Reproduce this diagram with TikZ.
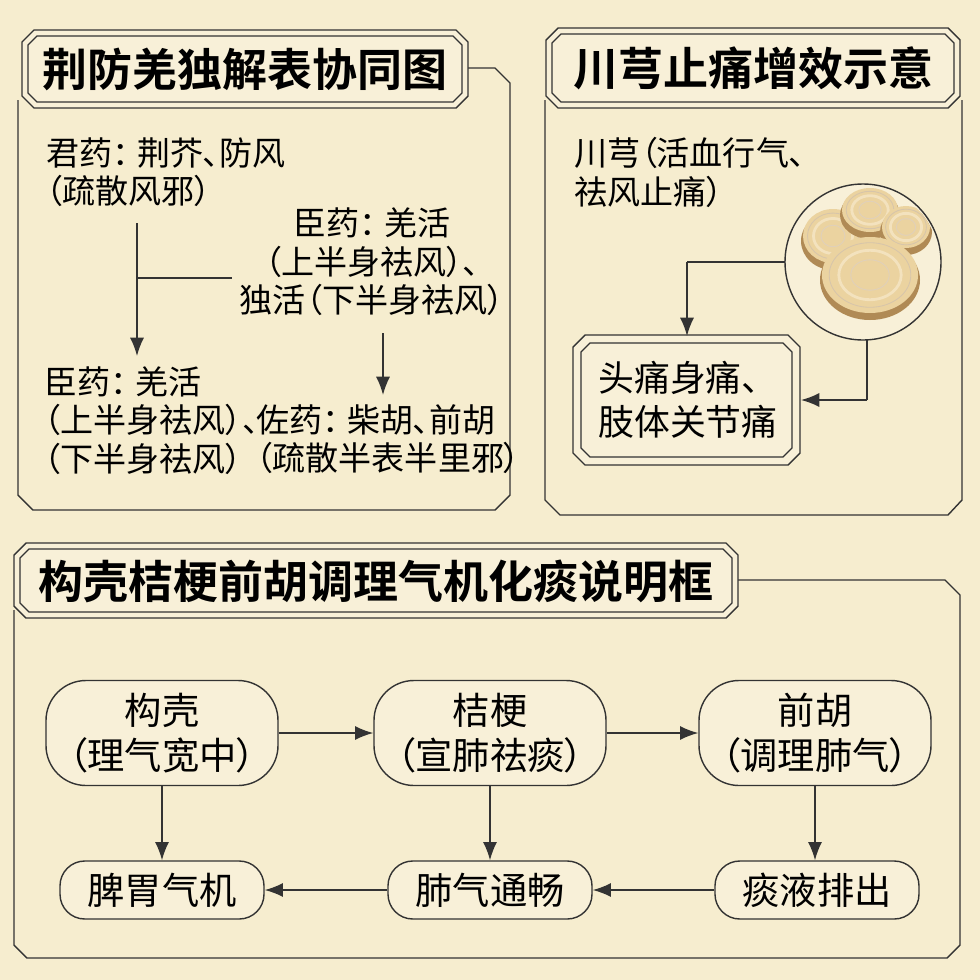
\documentclass[tikz,border=0pt]{standalone}
\usepackage{fontspec}
\setmainfont[RawFeature=+palt]{Noto Sans CJK SC}
\newfontfamily\bfcjk[RawFeature=+palt]{Noto Sans CJK SC Bold}
\usetikzlibrary{arrows.meta}
\definecolor{bg}{HTML}{F6EDCF}
\definecolor{plq}{HTML}{F8F0D8}
\definecolor{ln}{HTML}{333333}
\definecolor{slice}{HTML}{EBD3A0}
\definecolor{slicein}{HTML}{F3E2BE}
\definecolor{bark}{HTML}{B08A55}
\newcommand\chbox[6]{\draw[#6] (#1+#5,#2) -- (#3-#5,#2) -- (#3,#2+#5) -- (#3,#4-#5) -- (#3-#5,#4) -- (#1+#5,#4) -- (#1,#4-#5) -- (#1,#2+#5) -- cycle;}
\newcommand\plaque[4]{\chbox{#1}{#2}{#3}{#4}{12}{ln,line width=1pt,fill=plq}\chbox{#1+6}{#2+6}{#3-6}{#4-6}{9}{ln,line width=0.8pt}}
\newcommand\rootslice[4]{%
 \fill[bark] (#1,#2+5) circle[x radius=#3+2,y radius=#4+2];
 \fill[slice] (#1,#2) circle[x radius=#3,y radius=#4];
 \draw[slicein,line width=2pt] (#1,#2) circle[x radius=#3*0.65,y radius=#4*0.65];
 \draw[bark!40,line width=0.6pt] (#1,#2) circle[x radius=#3*0.4,y radius=#4*0.4];
 \draw[bark!50,line width=0.6pt] (#1,#2) circle[x radius=#3*0.85,y radius=#4*0.85];}
\newcommand\cln{：\hspace{0.25em}}
\begin{document}
\begin{tikzpicture}[x=0.025cm,y=-0.025cm,
  txt/.style={font=\fontsize{23.5}{27.5}\selectfont,text=black,inner sep=0pt,align=left},
  ttl/.style={font=\bfcjk\fontsize{32}{36}\selectfont,text=black,inner sep=0pt},
  pill/.style={draw=ln,line width=1pt,fill=plq,font=\fontsize{26.5}{32}\selectfont,align=center,inner sep=0pt},
  arr/.style={draw=ln,line width=1.1pt,-{Latex[length=13pt,width=10pt]}},
  fr/.style={draw=ln,line width=1pt}]
\fill[bg] (0,0) rectangle (980,980);
\useasboundingbox (0,0) rectangle (980,980);
% ---- top-left panel
\draw[fr] (465,68) -- (495,68) -- (510,83) -- (510,495) -- (495,510) -- (33,510) -- (18,495) -- (18,100);
\plaque{22}{30}{468}{108}
\node[ttl] (t1) at (245,69) {荆防羌独解表协同图};
\node[txt,anchor=north west] (jun) at (46,137) {君药\cln 荆芥、防风\\（疏散风邪）};
\node[txt,align=center] (chen1) at (372,262) {臣药\cln 羌活\\（上半身祛风）、\\独活（下半身祛风）};
\node[txt,anchor=north west] (chen2) at (44,366) {臣药\cln 羌活\\（上半身祛风）、\\（下半身祛风）};
\node[txt,anchor=north west] (zuo) at (256,404) {佐药\cln 柴胡、前胡\\（疏散半表半里邪）};
\coordinate (j) at (137,223);
\coordinate (jm) at (137,278);
\draw[arr] (j) -- (137,356);
\draw[fr] (jm) -- (232,278);
\draw[arr] (383,333) -- (383,395);
% ---- top-right panel
\draw[fr] (545,100) -- (545,500) -- (560,515) -- (948,515) -- (962,500) -- (962,100);
\plaque{546}{28}{960}{108}
\node[ttl] (t2) at (753,68) {川芎止痛增效示意};
\node[txt,anchor=north west] (xiong) at (574,137) {川芎（活血行气、\\祛风止痛）};
\draw[ln,line width=1pt,fill=plq] (863,262) circle[radius=78];
\node[circle,minimum size=156*0.025cm,inner sep=0pt] (img) at (863,262) {};
\begin{scope}
\clip (863,262) circle[radius=76];
\rootslice{833}{236}{30}{27}
\rootslice{870}{210}{28}{22}
\rootslice{906}{227}{24}{21}
\rootslice{870}{275}{48}{38}
\end{scope}
\chbox{573}{335}{800}{465}{12}{ln,line width=1pt,fill=plq}
\chbox{581}{343}{792}{457}{9}{ln,line width=0.8pt}
\node[txt,font=\fontsize{25.5}{31}\selectfont] (pain) at (688,400) {头痛身痛、\\肢体关节痛};
\coordinate (pb) at (687,262);
\draw[fr] (img.west|-pb) -- (pb);
\draw[arr] (pb) -- (687,336);
\coordinate (pc) at (867,400);
\draw[fr] (867,340) -- (pc);
\draw[arr] (pc) -- (801,400);
% ---- bottom panel
\draw[fr] (735,580) -- (945,580) -- (960,595) -- (960,945) -- (947,958) -- (27,958) -- (14,945) -- (14,610);
\plaque{14}{543}{738}{618}
\node[ttl] (t3) at (376,581) {构壳桔梗前胡调理气机化痰说明框};
\node[pill,minimum width=232*0.025cm,minimum height=105*0.025cm,rounded corners=1cm] (zq) at (162,733) {构壳\\（理气宽中）};
\node[pill,minimum width=232*0.025cm,minimum height=105*0.025cm,rounded corners=1cm] (jg) at (490,733) {桔梗\\（宣肺祛痰）};
\node[pill,minimum width=232*0.025cm,minimum height=105*0.025cm,rounded corners=1cm] (qh) at (815,733) {前胡\\（调理肺气）};
\node[pill,minimum width=204*0.025cm,minimum height=58*0.025cm,rounded corners=0.62cm] (pw) at (162,890) {脾胃气机};
\node[pill,minimum width=204*0.025cm,minimum height=58*0.025cm,rounded corners=0.62cm] (fq) at (490,890) {肺气通畅};
\node[pill,minimum width=204*0.025cm,minimum height=58*0.025cm,rounded corners=0.62cm] (ty) at (817,890) {痰液排出};
\draw[arr] (zq) -- (jg);
\draw[arr] (jg) -- (qh);
\draw[arr] (zq) -- (pw);
\draw[arr] (jg) -- (fq);
\draw[arr] (qh.south) -- (ty.north-|qh.south);
\draw[arr] (ty) -- (fq);
\draw[arr] (fq) -- (pw);
\end{tikzpicture}
\end{document}
